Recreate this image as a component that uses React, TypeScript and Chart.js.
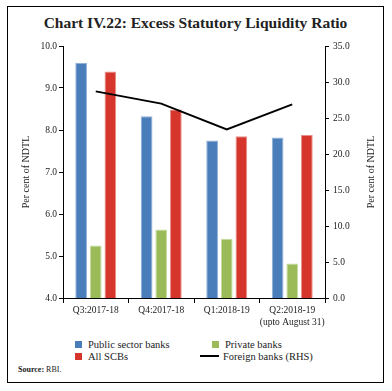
import React, { useEffect, useRef } from "react";
import { Chart, registerables } from "chart.js";

Chart.register(...registerables);

const categories: (string | string[])[] = ["Q3:2017-18", "Q4:2017-18", "Q1:2018-19", ["Q2:2018-19", "(upto August 31)"]];
const publicSector = [9.6, 8.33, 7.75, 7.82];
const privateBanks = [5.25, 5.63, 5.41, 4.82];
const allSCBs = [9.39, 8.49, 7.85, 7.88];
const foreignBanks = [28.7, 27.0, 23.4, 26.9];
const leftTicks = { min: 4, max: 10, step: 1 };
const rightTicks = { min: 0, max: 35, step: 5 };

const FONT = "'Liberation Serif', 'DejaVu Serif', serif";
const BLUE = "#4a7ebb";
const GREEN = "#9bbb59";
const RED = "#d5352a";

const axisTitles = {
  id: "axisTitles",
  afterDraw(chart: any) {
    const { ctx, chartArea } = chart;
    const cy = (chartArea.top + chartArea.bottom) / 2;
    ctx.save();
    ctx.fillStyle = "#222";
    ctx.font = `10px ${FONT}`;
    ctx.textAlign = "center";
    ctx.textBaseline = "middle";
    ctx.translate(chartArea.left - 37, cy);
    ctx.rotate(-Math.PI / 2);
    ctx.fillText("Per cent of NDTL", 0, 0);
    ctx.restore();
    ctx.save();
    ctx.fillStyle = "#222";
    ctx.font = `10px ${FONT}`;
    ctx.textAlign = "center";
    ctx.textBaseline = "middle";
    ctx.translate(chartArea.right + 46, cy);
    ctx.rotate(-Math.PI / 2);
    ctx.fillText("Per cent of NDTL", 0, 0);
    ctx.restore();
  },
};

function ChartCanvas() {
  const ref = useRef<HTMLCanvasElement>(null);
  useEffect(() => {
    if (!ref.current) return;
    const chart = new Chart(ref.current, {
      type: "bar",
      data: {
        labels: categories as any,
        datasets: [
          {
            type: "line",
            label: "Foreign banks (RHS)",
            data: foreignBanks,
            yAxisID: "y1",
            borderColor: "#000",
            borderWidth: 2,
            pointRadius: 0,
            tension: 0,
            order: 0,
          } as any,
          { label: "Public sector banks", data: publicSector, backgroundColor: BLUE, borderColor: "#8fb0d8", borderWidth: 1, yAxisID: "y", order: 1 },
          { label: "Private banks", data: privateBanks, backgroundColor: GREEN, borderColor: "#c6dca0", borderWidth: 1, yAxisID: "y", order: 1 },
          { label: "All SCBs", data: allSCBs, backgroundColor: RED, borderColor: "#e89088", borderWidth: 1, yAxisID: "y", order: 1 },
        ],
      },
      options: {
        animation: false,
        responsive: false,
        maintainAspectRatio: false,
        layout: { padding: { top: 12, left: 0, right: 0, bottom: 0 } },
        datasets: { bar: { categoryPercentage: 0.67, barPercentage: 0.8 } } as any,
        plugins: { legend: { display: false }, tooltip: { enabled: false }, title: { display: false } },
        scales: {
          x: {
            grid: { display: true, drawOnChartArea: false, drawTicks: true, tickLength: 5, color: "#000", offset: true },
            border: { display: true, color: "#000", width: 1 },
            ticks: { color: "#222", font: { family: FONT, size: 9.5 }, padding: 2, maxRotation: 0, autoSkip: false },
            afterFit: (s: any) => { s.height = 37; },
          },
          y: {
            position: "left",
            min: leftTicks.min,
            max: leftTicks.max,
            grid: { display: true, drawOnChartArea: false, drawTicks: true, tickLength: 4, color: "#000" },
            border: { display: true, color: "#000", width: 1 },
            ticks: { stepSize: leftTicks.step, color: "#222", font: { family: FONT, size: 9.5 }, padding: 2, callback: (v: any) => Number(v).toFixed(1) },
            afterFit: (s: any) => { s.width = 55; },
          },
          y1: {
            position: "right",
            min: rightTicks.min,
            max: rightTicks.max,
            grid: { display: true, drawOnChartArea: false, drawTicks: true, tickLength: 4, color: "#000" },
            border: { display: true, color: "#000", width: 1 },
            ticks: { stepSize: rightTicks.step, color: "#222", font: { family: FONT, size: 9.5 }, padding: 4, callback: (v: any) => Number(v).toFixed(1) },
            afterFit: (s: any) => { s.width = 58; },
          },
        },
      },
      plugins: [axisTitles],
    });
    return () => chart.destroy();
  }, []);
  return <canvas ref={ref} width={375} height={301} style={{ position: "absolute", left: 0, top: 27, width: 375, height: 301 }} />;
}

const legendItems = [
  { label: "Public sector banks", color: BLUE, kind: "box", x: 67, y: 331 },
  { label: "Private banks", color: GREEN, kind: "box", x: 204, y: 331 },
  { label: "All SCBs", color: RED, kind: "box", x: 67, y: 343 },
  { label: "Foreign banks (RHS)", color: "#000", kind: "line", x: 192, y: 343 },
];

export default function App() {
  return (
    <div
      style={{
        position: "fixed",
        left: 7,
        top: 6,
        width: 377,
        height: 377,
        boxSizing: "border-box",
        border: "1px solid #000",
        background: "#fff",
        fontFamily: FONT,
      }}
    >
      <div style={{ position: "absolute", left: 0, width: 375, top: 7, textAlign: "center", fontWeight: "bold", fontSize: 15.5, color: "#222" }}>
        Chart IV.22: Excess Statutory Liquidity Ratio
      </div>
      <ChartCanvas />
      {legendItems.map((it) => (
        <div key={it.label} style={{ position: "absolute", left: it.x, top: it.y, height: 12, display: "flex", alignItems: "center", fontSize: 10.5, color: "#222", whiteSpace: "nowrap" }}>
          {it.kind === "box" ? (
            <span style={{ display: "inline-block", width: 7, height: 7, background: it.color, marginRight: 6 }} />
          ) : (
            <span style={{ display: "inline-block", width: 19, height: 2, background: it.color, marginRight: 4 }} />
          )}
          {it.label}
        </div>
      ))}
      <div style={{ position: "absolute", left: 10, top: 358, fontSize: 8, color: "#222" }}>
        <b>Source:</b> RBI.
      </div>
    </div>
  );
}
